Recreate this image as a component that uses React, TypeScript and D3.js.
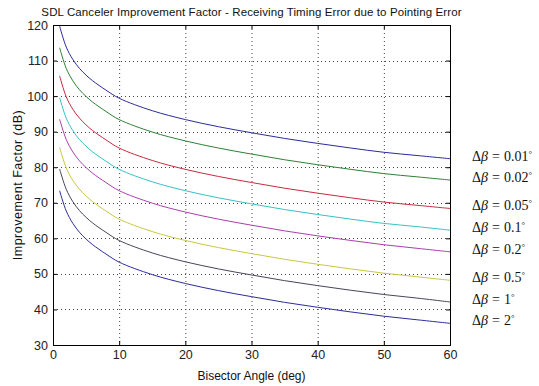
import React, { useEffect, useRef } from 'react';
import * as d3 from 'd3';

// bisector angle samples (deg)
const angles = [1, 2, 3, 4, 5, 6, 8, 10, 15, 20, 25, 30, 35, 40, 45, 50, 55, 60];

// improvement factor (dB), one array per pointing error
const db001 = [119.7, 113.8, 110.3, 107.8, 105.9, 104.3, 101.7, 99.4, 95.9, 93.4, 91.4, 89.7, 88.1, 86.7, 85.4, 84.2, 83.3, 82.4];
const db002 = [113.6, 107.8, 104.3, 101.8, 99.9, 98.3, 95.7, 93.4, 89.9, 87.4, 85.4, 83.7, 82.1, 80.7, 79.4, 78.2, 77.3, 76.4];
const db005 = [105.7, 99.8, 96.3, 93.8, 91.9, 90.3, 87.7, 85.4, 81.9, 79.4, 77.4, 75.7, 74.1, 72.7, 71.4, 70.2, 69.3, 68.4];
const db01 = [99.6, 93.8, 90.3, 87.8, 85.9, 84.3, 81.7, 79.4, 75.9, 73.4, 71.4, 69.7, 68.1, 66.7, 65.4, 64.2, 63.3, 62.3];
const db02 = [93.5, 87.8, 84.3, 81.8, 79.9, 78.3, 75.7, 73.4, 69.9, 67.4, 65.4, 63.7, 62.1, 60.7, 59.4, 58.2, 57.2, 56.2];
const db05 = [85.6, 79.8, 76.3, 73.8, 71.9, 70.3, 67.7, 65.4, 61.9, 59.4, 57.4, 55.7, 54.1, 52.7, 51.4, 50.2, 49.2, 48.2];
const db1 = [79.5, 73.8, 70.3, 67.8, 65.9, 64.3, 61.7, 59.4, 55.9, 53.4, 51.4, 49.7, 48.1, 46.7, 45.4, 44.2, 43.2, 42.1];
const db2 = [73.4, 67.7, 64.2, 61.7, 59.8, 58.2, 55.6, 53.3, 49.8, 47.3, 45.3, 43.6, 42.0, 40.6, 39.3, 38.1, 37.1, 36.1];

const betaLabels = ['0.01', '0.02', '0.05', '0.1', '0.2', '0.5', '1', '2'];
const seriesValues = [db001, db002, db005, db01, db02, db05, db1, db2];
const colors = ['#2b2b9c', '#2f7f35', '#c92a3e', '#35c2c6', '#a83fab', '#c9c840', '#46465a', '#2b2b9c'];

const xTicks = [0, 10, 20, 30, 40, 50, 60];
const yTicks = [30, 40, 50, 60, 70, 80, 90, 100, 110, 120];

const title = 'SDL Canceler Improvement Factor - Receiving Timing Error due to Pointing Error';

export default function App() {
  const svgRef = useRef<SVGSVGElement>(null);
  const width = 539;
  const height = 386;

  useEffect(() => {
    if (!svgRef.current) return;
    const svg = d3.select(svgRef.current);
    svg.selectAll('*').remove();

    const margin = { top: 25, right: 89, bottom: 41, left: 53 };
    const innerWidth = width - margin.left - margin.right;
    const innerHeight = height - margin.top - margin.bottom;
    const font = 'Liberation Sans, Arial, sans-serif';

    svg.append('rect').attr('width', width).attr('height', height).attr('fill', '#fff');

    const g = svg.append('g').attr('transform', `translate(${margin.left},${margin.top})`);

    const xScale = d3.scaleLinear().domain([0, 60]).range([0, innerWidth]);
    const yScale = d3.scaleLinear().domain([30, 120]).range([innerHeight, 0]);

    // grid
    g.selectAll('.vgrid')
      .data(xTicks.slice(1, -1))
      .enter()
      .append('line')
      .attr('x1', d => xScale(d) + 0.5)
      .attr('x2', d => xScale(d) + 0.5)
      .attr('y1', 0)
      .attr('y2', innerHeight)
      .attr('stroke', '#444')
      .attr('stroke-width', 1)
      .attr('stroke-dasharray', '1,3');
    g.selectAll('.hgrid')
      .data(yTicks.slice(1, -1))
      .enter()
      .append('line')
      .attr('x1', 0)
      .attr('x2', innerWidth)
      .attr('y1', d => Math.round(yScale(d)) + 0.5)
      .attr('y2', d => Math.round(yScale(d)) + 0.5)
      .attr('stroke', '#444')
      .attr('stroke-width', 1)
      .attr('stroke-dasharray', '1,3');

    // curves
    const line = d3
      .line<number>()
      .x((_, i) => xScale(angles[i]))
      .y(d => yScale(d))
      .curve(d3.curveCatmullRom.alpha(0.5));

    seriesValues.forEach((vals, k) => {
      g.append('path')
        .datum(vals)
        .attr('fill', 'none')
        .attr('stroke', colors[k])
        .attr('stroke-width', 1)
        .attr('d', line);
    });

    // axes with inward ticks
    const axes = [
      { axis: d3.axisBottom(xScale).tickValues(xTicks).tickSizeInner(-4).tickSizeOuter(0).tickPadding(5), t: `translate(0,${innerHeight})`, labels: true },
      { axis: d3.axisTop(xScale).tickValues(xTicks).tickSizeInner(-4).tickSizeOuter(0), t: 'translate(0,0)', labels: false },
      { axis: d3.axisLeft(yScale).tickValues(yTicks).tickSizeInner(-4).tickSizeOuter(0).tickPadding(5), t: 'translate(0,0)', labels: true },
      { axis: d3.axisRight(yScale).tickValues(yTicks).tickSizeInner(-4).tickSizeOuter(0), t: `translate(${innerWidth},0)`, labels: false },
    ];
    axes.forEach(a => {
      const ag = g.append('g').attr('transform', a.t).call(a.axis as any);
      ag.selectAll('path').remove();
      ag.selectAll('line').attr('stroke', '#000');
      ag.selectAll('text')
        .style('font-family', font)
        .style('font-size', '12.5px')
        .attr('fill', '#222');
      if (!a.labels) ag.selectAll('text').remove();
    });

    g.append('rect')
      .attr('x', 0.5)
      .attr('y', 0.5)
      .attr('width', innerWidth)
      .attr('height', innerHeight)
      .attr('fill', 'none')
      .attr('stroke', '#000');

    // series labels at the right end of each curve
    seriesValues.forEach((vals, k) => {
      const t = g.append('text')
        .attr('x', innerWidth + 22)
        .attr('y', yScale(vals[vals.length - 1]) + 2)
        .style('font-family', 'Liberation Serif, Times New Roman, serif')
        .style('font-size', '14px')
        .attr('fill', '#111');
      t.append('tspan').text('Δ');
      t.append('tspan').style('font-style', 'italic').text('β');
      t.append('tspan').attr('dx', 4).text('=');
      t.append('tspan').attr('dx', 4).text(betaLabels[k]);
      t.append('tspan').attr('dy', -4).style('font-size', '9px').text('°');
    });

    // title + axis labels
    svg.append('text')
      .attr('x', margin.left + innerWidth / 2)
      .attr('y', 16)
      .attr('text-anchor', 'middle')
      .style('font-family', font)
      .style('font-size', '11.5px')
      .style('letter-spacing', '0.1px')
      .attr('fill', '#111')
      .text(title);

    svg.append('text')
      .attr('x', margin.left + innerWidth / 2)
      .attr('y', height - 6)
      .attr('text-anchor', 'middle')
      .style('font-family', font)
      .style('font-size', '12px')
      .attr('fill', '#111')
      .text('Bisector Angle (deg)');

    svg.append('text')
      .attr('transform', `translate(22,${margin.top + innerHeight / 2}) rotate(-90)`)
      .attr('text-anchor', 'middle')
      .style('font-family', font)
      .style('font-size', '12.5px')
      .style('letter-spacing', '0.5px')
      .attr('fill', '#111')
      .text('Improvement Factor (dB)');
  }, []);

  return (
    <svg
      ref={svgRef}
      width={width}
      height={height}
      style={{ position: 'absolute', left: 0, top: 0 }}
    />
  );
}
